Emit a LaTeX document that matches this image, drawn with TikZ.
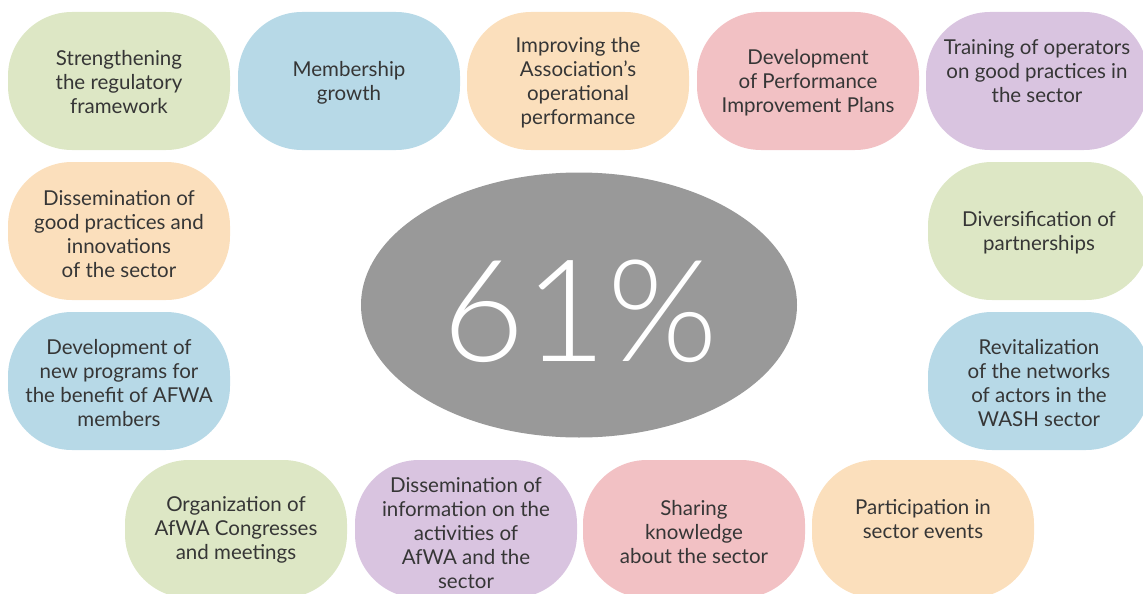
\documentclass[tikz,border=0pt]{standalone}
\usepackage{fontspec}
\setmainfont{Lato}
\newfontfamily\bignum{Lato Light}
\usetikzlibrary{shapes.geometric}

\definecolor{cgreen}{HTML}{DDE7C5}
\definecolor{cblue}{HTML}{B7D9E7}
\definecolor{cpeach}{HTML}{FBDFBC}
\definecolor{cpink}{HTML}{F2C1C4}
\definecolor{cpurple}{HTML}{D9C4E0}
\definecolor{cgrey}{HTML}{999999}
\definecolor{ctext}{HTML}{363636}

\begin{document}
\begin{tikzpicture}[x=1pt, y=-1pt,
    goal/.style={rounded corners=64pt, minimum width=222pt, minimum height=138pt,
      inner sep=0pt},
    words/.style={inner sep=0pt, align=center, text=ctext,
      font=\fontsize{20.5}{24}\selectfont}]
  \useasboundingbox (0,0) rectangle (1143,594);
  \clip (0,0) rectangle (1143,594);

  % Goals around the central figure (last field: text shift)
  \foreach \name/\x/\y/\col/\txt/\dy in {
      reg/119/81/cgreen/{Strengthening\\the regulatory\\framework}/-1,
      memb/349/81/cblue/{Membership\\growth}/-2,
      oper/578/81/cpeach/{Improving the\\Association's\\operational\\performance}/-2,
      pip/808/81/cpink/{Development\\of Performance\\Improvement Plans}/-2,
      train/1037/81/cpurple/{Training of operators\\on good practices in\\the sector}/10,
      dissem/119/231/cpeach/{Dissemination of\\good practices and\\innovations\\of the sector}/-3,
      progs/119/381/cblue/{Development of\\new programs for\\the benefit of AFWA\\members}/-2,
      divers/1039/231/cgreen/{Diversification of\\partnerships}/-2,
      revit/1039/381/cblue/{Revitalization\\of the networks\\of actors in the\\WASH sector}/-2,
      congr/236/529/cgreen/{Organization of\\AfWA Congresses\\and meetings}/-1,
      info/466/529/cpurple/{Dissemination of\\information on the\\activities of\\AfWA and the\\sector}/-4,
      share/694/529/cpink/{Sharing\\knowledge\\about the sector}/-3,
      events/923/529/cpeach/{Participation in\\sector events}/10} {
    \node[goal, fill=\col, label={[words, yshift=\dy pt]center:\txt}] (\name) at (\x,\y) {};
  }

  % Central share
  \node[ellipse, fill=cgrey, minimum width=436pt, minimum height=265pt, inner sep=0pt]
    (share61) at (579,305) {};
  \node[text=white, font=\bignum\fontsize{142}{142}\selectfont] (pct) at (580,311) {61\%};
\end{tikzpicture}
\end{document}
